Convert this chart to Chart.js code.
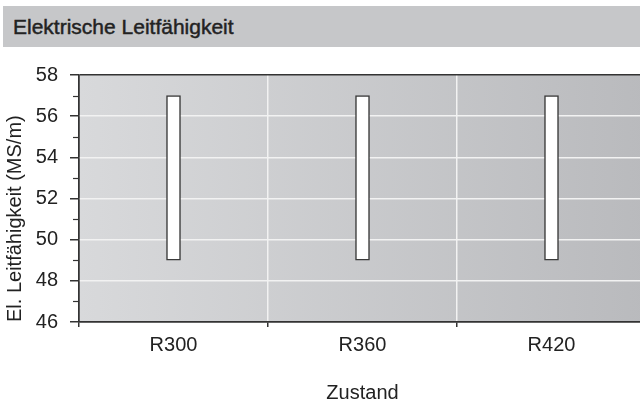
<!DOCTYPE html>
<html>
<head>
<meta charset="utf-8">
<script src="https://cdn.jsdelivr.net/npm/chart.js@4"></script>
<style>
  html, body { margin: 0; padding: 0; background: #fff; overflow: hidden; }
  #wrap { position: relative; width: 646px; height: 400px; }
  #titlebar {
    position: absolute; left: 3px; top: 6px; width: 643px; height: 41px;
    background: #c6c7c9; color: #222;
    font-family: "Liberation Sans", Arial, sans-serif; font-size: 21px;
    line-height: 41px; padding-left: 10px; box-sizing: border-box;
    -webkit-text-stroke: 0.45px #222;
  }
</style>
</head>
<body>
<div id="wrap">
  <canvas id="myChart" width="646" height="400"></canvas>
  <div id="titlebar">Elektrische Leitfähigkeit</div>
</div>
<script>
// data
var zustand = ['R300', 'R360', 'R420'];
var leitMin = [49, 49, 49];
var leitMax = [57, 57, 57];
var yTicks = [46, 48, 50, 52, 54, 56, 58];

var dark = '#333333';
var font = 'Liberation Sans';

// gradient behind the plot
const bgPlugin = {
  id: 'bg',
  beforeDraw(chart) {
    const a = chart.chartArea;
    const c = chart.ctx;
    const g = c.createLinearGradient(a.left, 0, a.right, 0);
    g.addColorStop(0, '#d8d9db');
    g.addColorStop(1, '#b9babd');
    c.save();
    c.fillStyle = g;
    c.fillRect(a.left, a.top, a.right - a.left, a.bottom - a.top);
    c.restore();
  }
};

// short minor ticks at odd values
const minorTicks = {
  id: 'minor',
  afterDraw(chart) {
    const y = chart.scales.y;
    const c = chart.ctx;
    c.save();
    c.strokeStyle = dark;
    c.lineWidth = 1.2;
    for (var v = yTicks[0] + 1; v < yTicks[yTicks.length - 1]; v += 2) {
      var py = Math.round(y.getPixelForValue(v)) + 0.5;
      c.beginPath();
      c.moveTo(y.right - 6, py);
      c.lineTo(y.right, py);
      c.stroke();
    }
    c.restore();
  }
};

const ctx = document.getElementById('myChart');
const data = {
  labels: zustand,
  datasets: [{
    label: 'El. Leitfähigkeit',
    data: zustand.map((z, i) => [leitMin[i], leitMax[i]]),
    backgroundColor: '#ffffff',
    borderColor: '#3a3a3a',
    borderWidth: 1.5,
    borderSkipped: false,
    barThickness: 14
  }]
};

const config = {
  type: 'bar',
  data: data,
  plugins: [bgPlugin, minorTicks],
  options: {
    responsive: false,
    animation: false,
    layout: { padding: { top: 75, right: 0, left: 0, bottom: 0 } },
    plugins: { legend: { display: false }, tooltip: { enabled: false } },
    scales: {
      x: {
        offset: true,
        afterFit(s) { s.height = 78; },
        grid: {
          offset: true,
          color: c => c.index === 0 ? dark : '#f2f2f2',
          lineWidth: 1.5,
          tickColor: dark,
          tickLength: 5
        },
        border: { color: dark, width: 1.5 },
        ticks: { color: '#222', padding: 6, font: { family: font, size: 20 } },
        title: {
          display: true, text: 'Zustand', color: '#222',
          padding: 0, font: { family: font, size: 20, lineHeight: 0.7 }
        }
      },
      y: {
        min: yTicks[0],
        max: yTicks[yTicks.length - 1],
        afterFit(s) { s.width = 79; },
        afterBuildTicks(s) { s.ticks = yTicks.map(v => ({ value: v })); },
        grid: {
          color: c => (c.tick && (c.tick.value === 58 || c.tick.value === 46)) ? dark : '#f2f2f2',
          lineWidth: 1.5,
          tickColor: dark,
          tickLength: 9
        },
        border: { color: dark, width: 1.5 },
        ticks: { color: '#222', padding: 12, font: { family: font, size: 20 } },
        title: {
          display: true, text: 'El. Leitfähigkeit (MS/m)', color: '#222', align: 'start',
          padding: { top: 3 }, font: { family: font, size: 20 }
        }
      }
    }
  }
};

var chart = new Chart(ctx, config);
</script>
</body>
</html>
